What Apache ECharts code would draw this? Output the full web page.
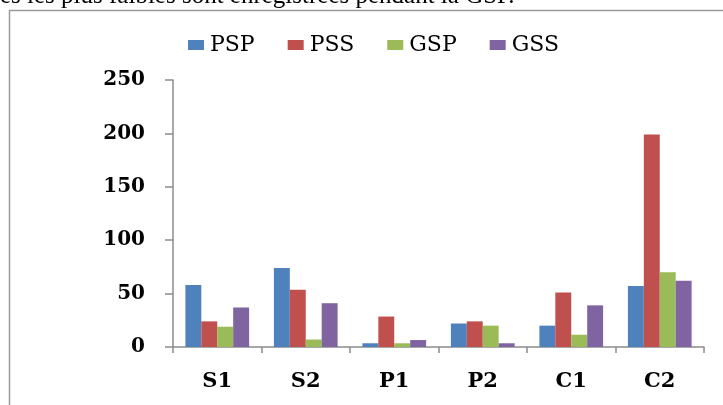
<!DOCTYPE html>
<html>
<head>
<meta charset="utf-8">
<script src="https://cdn.jsdelivr.net/npm/echarts@6/dist/echarts.min.js"></script>
<style>
html,body{margin:0;padding:0;background:#fff;}
#chart{width:723px;height:405px;}
</style>
</head>
<body>
<div id="chart"></div>
<script>
const categories = ['S1', 'S2', 'P1', 'P2', 'C1', 'C2'];
const seriesNames = ['PSP', 'PSS', 'GSP', 'GSS'];
const PSP = [58, 74, 3.5, 22, 20, 57];
const PSS = [24, 53.5, 28.5, 24, 51, 199];
const GSP = [19, 7, 3.5, 20, 11.5, 70];
const GSS = [37, 41, 6.5, 3.5, 39, 62];
const yTicks = [0, 50, 100, 150, 200, 250];
const colors = ['#4F81BD', '#C0504D', '#9BBB59', '#8064A2'];
const captionText = 'es les plus faibles sont enregistrées pendant la GSP.';

const values = [PSP, PSS, GSP, GSS];
const chart = echarts.init(document.getElementById('chart'));
chart.setOption({
  animation: false,
  backgroundColor: '#fff',
  color: colors,
  graphic: [
    { type: 'text', left: 0, top: -16, z: 10,
      style: { text: captionText, font: '25px "Liberation Serif"', fill: '#000' } },
    { type: 'rect', shape: { x: 9.5, y: 10.5, width: 740, height: 420 },
      style: { fill: 'none', stroke: '#9a9a9a', lineWidth: 1.5 }, z: -1 }
  ],
  legend: {
    left: 183, top: 28,
    itemWidth: 16, itemHeight: 10, itemGap: 33,
    icon: 'rect',
    textStyle: { fontFamily: 'DejaVu Serif', fontSize: 22, color: '#000', lineHeight: 24, padding: [0, 0, 0, 1] },
    data: seriesNames
  },
  grid: { left: 173, right: 19, top: 80, bottom: 58, containLabel: false },
  xAxis: {
    type: 'category', data: categories,
    axisLine: { lineStyle: { color: '#8c8c8c', width: 1.5 } },
    axisTick: { show: true, length: 6, alignWithLabel: false, lineStyle: { color: '#8c8c8c', width: 1.5 } },
    axisLabel: { margin: 24, color: '#000', fontFamily: 'DejaVu Serif', fontWeight: 'bold', fontSize: 21 }
  },
  yAxis: {
    type: 'value', min: yTicks[0], max: yTicks[yTicks.length - 1], interval: yTicks[1] - yTicks[0],
    splitLine: { show: false },
    axisLine: { show: true, lineStyle: { color: '#8c8c8c', width: 1.5 } },
    axisTick: { show: true, length: 8, lineStyle: { color: '#8c8c8c', width: 1.5 } },
    axisLabel: { margin: 28, color: '#000', fontFamily: 'DejaVu Serif', fontWeight: 'bold', fontSize: 20 }
  },
  series: seriesNames.map((n, i) => ({
    name: n, type: 'bar', data: values[i],
    barGap: '0%', barCategoryGap: '28%'
  }))
});
</script>
</body>
</html>
